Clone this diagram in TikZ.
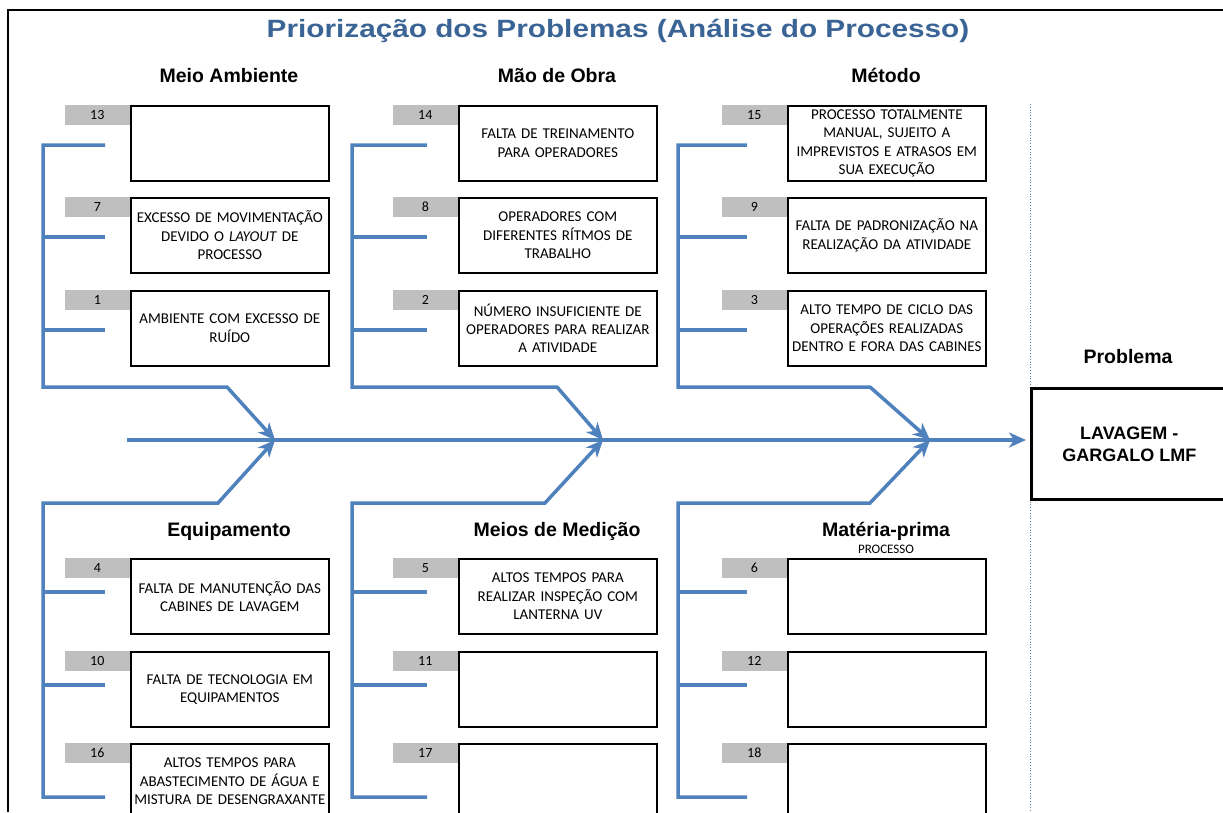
\documentclass[tikz,border=0pt]{standalone}
\usepackage{graphicx}
\usepackage{fontspec}
\setmainfont{Liberation Sans}
\newfontfamily\boxfont{Carlito}
\usetikzlibrary{arrows.meta,positioning,calc}
\definecolor{bone}{HTML}{4F81BD}
\definecolor{titleblue}{HTML}{3B6496}
\definecolor{tabgray}{HTML}{BFBFBF}
\definecolor{ink}{HTML}{000000}
\tikzset{
  cause/.style={draw=ink, line width=1.6pt, anchor=north west, minimum width=198pt, minimum height=75pt, text width=192pt, align=center, inner sep=0pt, font=\boxfont\fontsize{15}{18.3}\selectfont},
  numtab/.style={fill=tabgray, anchor=north east, minimum width=65pt, minimum height=20pt, inner sep=0pt, font=\boxfont\fontsize{14}{16}\selectfont},
  heading/.style={anchor=base, font=\bfseries\fontsize{19.5}{22}\selectfont},
  bone/.style={draw=bone, line width=3.5pt},
  bonearrow/.style={bone, -{Stealth[length=17pt, width=15pt, inset=5pt]}},
  divider/.style={draw=bone, line width=0.8pt, dotted},
}

\begin{document}
\begin{tikzpicture}[x=1pt, y=-1pt]
\useasboundingbox (0,0) rectangle (1223,812);
% --- frame and title
\draw[line width=2pt] (8,812) -- (8,10) -- (1223,10);
\node[anchor=base, text=titleblue, font=\bfseries\fontsize{25}{28}\selectfont] (title) at (618,37) {\scalebox{1.19}[1]{Priorização dos Problemas (Análise do Processo)}};
% --- category headings
\node[heading] (ambiente) at (229,82) {Meio Ambiente};
\node[heading] (maoobra) at (557,82) {Mão de Obra};
\node[heading] (metodo) at (886,82) {Método};
\node[heading] (equip) at (229,536) {Equipamento};
\node[heading] (medicao) at (557,536) {Meios de Medição};
\node[heading] (materia) at (886,536) {Matéria-prima};
\node[anchor=base, font=\boxfont\fontsize{13}{15}\selectfont] (processo) at (886,553) {PROCESSO};
% --- problem (effect)
\draw[divider] (1030,104) -- (1030,812);
\node[heading] (problema) at (1128,363) {Problema};
\node[draw=ink, line width=2.6pt, anchor=north west, minimum width=196pt, minimum height=111pt, align=center, font=\bfseries\fontsize{18}{22}\selectfont] (prob) at (1030,387) {LAVAGEM -\\GARGALO LMF};
% --- causes
\foreach \n/\x/\y/\txt in {
  13/130/105/{},
  7/130/197/{EXCESSO DE MOVIMENTAÇÃO\\DEVIDO O \textit{LAYOUT} DE\\PROCESSO},
  1/130/290/{AMBIENTE COM EXCESSO DE\\RUÍDO},
  14/458/105/{FALTA DE TREINAMENTO\\PARA OPERADORES},
  8/458/197/{OPERADORES COM\\DIFERENTES RÍTMOS DE\\TRABALHO},
  2/458/290/{NÚMERO INSUFICIENTE DE\\OPERADORES PARA REALIZAR\\A ATIVIDADE},
  15/787/105/{PROCESSO TOTALMENTE\\MANUAL, SUJEITO A\\IMPREVISTOS E ATRASOS EM\\SUA EXECUÇÃO},
  9/787/197/{FALTA DE PADRONIZAÇÃO NA\\REALIZAÇÃO DA ATIVIDADE},
  3/787/290/{ALTO TEMPO DE CICLO DAS\\OPERAÇÕES REALIZADAS\\DENTRO E FORA DAS CABINES},
  4/130/558/{FALTA DE MANUTENÇÃO DAS\\CABINES DE LAVAGEM},
  10/130/651/{FALTA DE TECNOLOGIA EM\\EQUIPAMENTOS},
  16/130/743/{ALTOS TEMPOS PARA\\ABASTECIMENTO DE ÁGUA E\\MISTURA DE DESENGRAXANTE},
  5/458/558/{ALTOS TEMPOS PARA\\REALIZAR INSPEÇÃO COM\\LANTERNA UV},
  11/458/651/{}, 17/458/743/{},
  6/787/558/{}, 12/787/651/{}, 18/787/743/{}} {
  \node[cause] (box\n) at (\x,\y) {\txt};
  \node[numtab] (tab\n) at (box\n.north west) {\n};
}
% --- main bone
\coordinate (tail) at (127,440);
\coordinate (head1) at (275,440);
\coordinate (head2) at (603,440);
\coordinate (head3) at (930,440);
\draw[bonearrow, shorten >=4pt] (tail) -- (tail -| prob.west);
% --- top row bones
\foreach \sx/\len/\bx [count=\i] in {43/62/227, 352/75/557, 678/69/870} {
  \draw[bonearrow] (\sx+\len,145) -- (\sx,145) -- (\sx,387) -- (\bx,387) -- (head\i);
  \draw[bone] (\sx,237) -- ++(\len,0);
  \draw[bone] (\sx,330) -- ++(\len,0);
}
% --- bottom row bones
\foreach \sx/\len/\bx [count=\i] in {43/62/218, 352/75/545, 678/69/870} {
  \draw[bonearrow] (\sx+\len,797) -- (\sx,797) -- (\sx,503) -- (\bx,503) -- (head\i);
  \draw[bone] (\sx,592) -- ++(\len,0);
  \draw[bone] (\sx,685) -- ++(\len,0);
}
\end{tikzpicture}
\end{document}
